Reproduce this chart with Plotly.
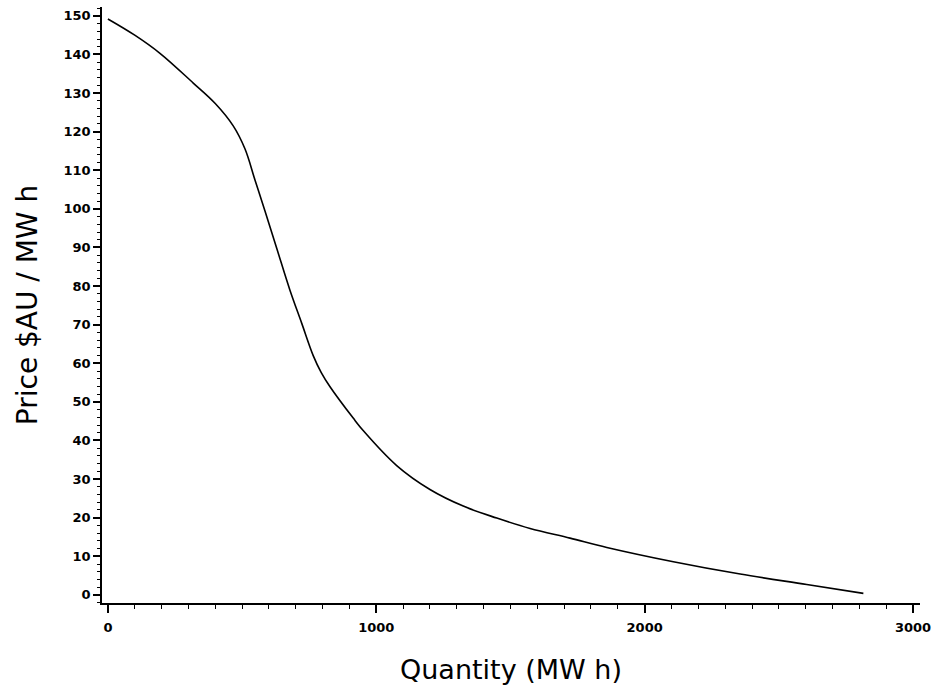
import plotly.graph_objects as go

quantity = [0, 100, 194, 318, 400, 467, 511, 548, 585, 629, 678, 722, 765, 795, 827, 914,
            952, 1076, 1200, 1324, 1449, 1573, 1722, 1859, 2107, 2356, 2604, 2815]
price = [149.2, 145.0, 140.3, 132.6, 127.3, 121.5, 115.5, 107.5, 99.5, 89.8, 79.0, 70.4,
         62.0, 57.6, 54.0, 45.8, 42.5, 33.5, 27.3, 23.0, 19.9, 17.2, 14.7, 12.3, 8.6, 5.4, 2.7, 0.4]

x_ticks = [0, 1000, 2000, 3000]
y_ticks = list(range(0, 151, 10))

fig = go.Figure()
fig.add_trace(go.Scatter(x=quantity, y=price, mode="lines",
                         line=dict(color="black", width=1.6, shape="spline", smoothing=1.0),
                         showlegend=False, hoverinfo="skip"))

fig.update_layout(
    width=940, height=692,
    margin=dict(l=102, r=20, t=7, b=89),
    paper_bgcolor="white", plot_bgcolor="white",
    font=dict(family="DejaVu Sans", color="black"),
)
fig.update_xaxes(
    range=[-22, 3026], showgrid=False, zeroline=False,
    showline=True, linecolor="black", linewidth=1.5,
    tickmode="array", tickvals=x_ticks, ticktext=[str(v) for v in x_ticks],
    ticks="outside", ticklen=8, tickwidth=1.5, tickcolor="black",
    ticklabelstandoff=4,
    tickfont=dict(size=13, weight="bold", family="DejaVu Sans"),
    minor=dict(dtick=100, ticks="outside", ticklen=4, tickwidth=1.2, tickcolor="black", showgrid=False),
    title=dict(text="Quantity (MW h)", font=dict(size=27, family="DejaVu Sans"), standoff=26),
)
fig.update_yaxes(
    range=[-2.1, 152.3], showgrid=False, zeroline=False,
    showline=True, linecolor="black", linewidth=1.5,
    tickmode="array", tickvals=y_ticks, ticktext=[str(v) for v in y_ticks],
    ticks="outside", ticklen=7, tickwidth=1.5, tickcolor="black",
    tickfont=dict(size=13, weight="bold", family="DejaVu Sans"),
    minor=dict(dtick=2, ticks="outside", ticklen=3, tickwidth=1.2, tickcolor="black", showgrid=False),
    title=dict(text="Price $AU / MW h", font=dict(size=28, family="DejaVu Sans"), standoff=18),
)

fig.write_html("out.html")
